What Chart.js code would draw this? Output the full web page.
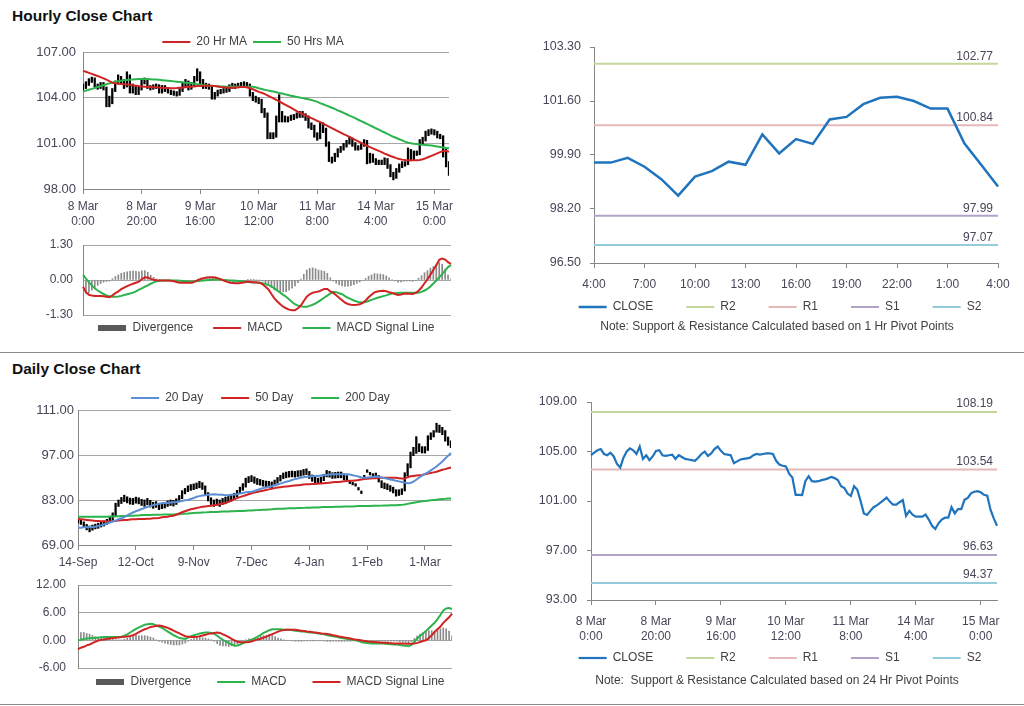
<!DOCTYPE html>
<html>
<head>
<meta charset="utf-8">
<script src="https://cdn.jsdelivr.net/npm/chart.js@4.4.0/dist/chart.umd.min.js"></script>
<style>
  html, body { margin: 0; padding: 0; background: #fff; }
  body { width: 1024px; height: 706px; position: relative; overflow: hidden; font-family: "Liberation Sans", Arial, sans-serif; }
  canvas { position: absolute; left: 0; top: 0; }
  .heading { position: absolute; left: 12px; font-weight: bold; font-size: 15.5px; color: #111; line-height: 18px; }
  .rule { position: absolute; left: 0; width: 1024px; height: 1px; background: #8c8c8c; }
</style>
</head>
<body>
<div class="heading" style="top:7px">Hourly Close Chart</div>
<div class="rule" style="top:352px"></div>
<div class="heading" style="top:360px">Daily Close Chart</div>
<div class="rule" style="top:704px"></div>

<canvas id="hourPrice" width="1024" height="760"></canvas>
<canvas id="hourMacd" width="1024" height="760"></canvas>
<canvas id="hourPivot" width="1024" height="760"></canvas>
<canvas id="dayPrice" width="1024" height="760"></canvas>
<canvas id="dayMacd" width="1024" height="760"></canvas>
<canvas id="dayPivot" width="1024" height="760"></canvas>

<script>
// --- Tick labels ---
const hourTicks = [['8 Mar', '0:00'], ['8 Mar', '20:00'], ['9 Mar', '16:00'], ['10 Mar', '12:00'], ['11 Mar', '8:00'], ['14 Mar', '4:00'], ['15 Mar', '0:00']];
const dayTicks = ['14-Sep', '12-Oct', '9-Nov', '7-Dec', '4-Jan', '1-Feb', '1-Mar'];
const pivotHours = ['4:00', '5:00', '6:00', '7:00', '8:00', '9:00', '10:00', '11:00', '12:00', '13:00', '14:00', '15:00', '16:00',
    '17:00', '18:00', '19:00', '20:00', '21:00', '22:00', '23:00', '0:00', '1:00', '2:00', '3:00', '4:00'];

// --- Hourly series (8 Mar 0:00 .. 15 Mar ~5:00) ---
const hourClose = [
    104.7, 104.9, 105.1, 105.2, 104.8, 104.7, 104.9, 104.6, 104.0, 103.7,
    104.5, 105.0, 105.25, 105.1, 104.8, 105.4, 104.4, 104.7, 104.3, 104.6,
    105.05, 105.1, 104.7, 104.65, 104.7, 104.75, 104.4, 104.7, 104.55, 104.4,
    104.35, 104.3, 104.25, 104.5, 104.8, 105.0, 104.65, 104.85, 105.2, 105.4,
    105.05, 104.8, 104.75, 104.7, 104.05, 104.2, 104.35, 104.4, 104.45, 104.5,
    104.7, 104.8, 104.75, 104.8, 104.85, 104.85, 104.8, 104.25, 103.95, 103.85,
    103.8, 103.2, 102.9, 101.5, 101.5, 101.48, 102.6, 103.0, 102.6, 102.56,
    102.6, 102.69, 102.75, 102.83, 102.95, 102.85, 102.7, 102.2, 102.05, 101.6,
    101.4, 102.2, 101.9, 101.0, 100.0, 99.87, 100.2, 100.5, 100.65, 100.85,
    101.05, 101.27, 100.95, 100.7, 100.7, 100.9, 101.08, 99.8, 100.2, 99.9,
    99.73, 99.73, 99.73, 99.9, 99.5, 99.0, 98.74, 99.2, 99.5, 99.65,
    99.65, 100.5, 100.0, 100.35, 100.35, 101.1, 101.25, 101.62, 101.75, 101.8,
    101.7, 101.5, 101.43, 100.3, 99.6, 99.0
];
const hourHigh = [
    104.9, 105.05, 105.25, 105.35, 105.3, 104.9, 105.0, 105.0, 104.7, 104.1,
    104.6, 105.1, 105.5, 105.4, 105.2, 105.7, 105.5, 104.9, 104.8, 104.7,
    105.2, 105.3, 105.2, 104.8, 104.85, 104.9, 104.85, 104.8, 104.8, 104.65,
    104.5, 104.45, 104.4, 104.6, 104.95, 105.2, 105.1, 105.0, 105.4, 105.9,
    105.7, 105.2, 104.95, 104.9, 104.8, 104.35, 104.5, 104.55, 104.6, 104.65,
    104.85, 104.95, 104.9, 104.95, 105.0, 105.05, 105.0, 104.9, 104.35, 104.1,
    104.0, 103.9, 103.3, 103.0, 101.7, 101.7, 102.8, 104.2, 103.1, 102.8,
    102.75, 102.85, 102.9, 103.0, 103.1, 103.1, 102.95, 102.8, 102.35, 102.2,
    101.7, 102.4, 102.35, 102.0, 101.1, 100.1, 100.35, 100.65, 100.8, 101.0,
    101.2, 101.45, 101.35, 101.05, 100.85, 101.05, 101.25, 101.2, 100.35, 100.3,
    100.0, 99.9, 99.9, 100.05, 100.0, 99.6, 99.1, 99.35, 99.65, 99.8,
    99.8, 100.7, 100.6, 100.5, 100.5, 101.25, 101.4, 101.8, 101.9, 101.95,
    101.9, 101.8, 101.6, 101.5, 100.6, 99.8
];
const hourLow = [
    104.5, 104.6, 104.8, 105.0, 104.7, 104.55, 104.6, 104.5, 103.4, 103.4,
    103.6, 104.4, 104.9, 104.9, 104.6, 104.7, 104.3, 104.3, 104.2, 104.2,
    104.5, 104.9, 104.6, 104.5, 104.55, 104.6, 104.3, 104.3, 104.4, 104.3,
    104.2, 104.15, 104.1, 104.15, 104.4, 104.7, 104.5, 104.55, 104.75, 105.1,
    104.9, 104.6, 104.6, 104.55, 103.9, 103.9, 104.1, 104.25, 104.3, 104.35,
    104.4, 104.6, 104.6, 104.65, 104.7, 104.7, 104.65, 104.1, 103.8, 103.7,
    103.6, 103.0, 102.7, 101.3, 101.3, 101.3, 101.4, 102.4, 102.4, 102.4,
    102.4, 102.5, 102.55, 102.65, 102.7, 102.7, 102.5, 102.0, 101.9, 101.4,
    101.2, 101.3, 101.7, 100.8, 99.8, 99.7, 99.8, 100.1, 100.4, 100.55,
    100.75, 100.95, 100.8, 100.55, 100.55, 100.6, 100.8, 99.65, 99.7, 99.75,
    99.6, 99.6, 99.6, 99.6, 99.35, 98.8, 98.6, 98.7, 99.1, 99.4,
    99.5, 99.6, 99.85, 99.9, 100.2, 100.25, 100.95, 101.15, 101.5, 101.6,
    101.55, 101.35, 101.3, 100.1, 99.45, 98.9
];
const hourMa20 = [
    105.76, 105.7, 105.63, 105.56, 105.49, 105.42, 105.35, 105.27, 105.18, 105.08,
    104.98, 104.94, 104.92, 104.9, 104.88, 104.87, 104.85, 104.82, 104.79, 104.76,
    104.74, 104.72, 104.71, 104.7, 104.69, 104.68, 104.66, 104.65, 104.64, 104.63,
    104.62, 104.62, 104.63, 104.65, 104.67, 104.69, 104.71, 104.72, 104.74, 104.76,
    104.77, 104.78, 104.78, 104.78, 104.78, 104.76, 104.73, 104.7, 104.68, 104.66,
    104.65, 104.65, 104.66, 104.68, 104.7, 104.7, 104.68, 104.62, 104.55, 104.47,
    104.38, 104.32, 104.25, 104.15, 104.05, 103.95, 103.85, 103.75, 103.65, 103.55,
    103.45, 103.34, 103.23, 103.12, 103.01, 102.92, 102.84, 102.75, 102.66, 102.57,
    102.48, 102.39, 102.3, 102.2, 102.1, 102.0, 101.9, 101.8, 101.7, 101.6,
    101.52, 101.43, 101.33, 101.23, 101.13, 101.03, 100.93, 100.84, 100.75, 100.67,
    100.59, 100.51, 100.42, 100.32, 100.25, 100.17, 100.1, 100.03, 99.97, 99.93,
    99.9, 99.89, 99.89, 99.89, 99.89, 99.9, 99.95, 100.02, 100.1, 100.18,
    100.26, 100.34, 100.42, 100.5, 100.5, 100.45
];
const hourMa50 = [
    104.4, 104.46, 104.52, 104.58, 104.64, 104.7, 104.76, 104.82, 104.88, 104.94,
    104.99, 105.04, 105.08, 105.11, 105.14, 105.16, 105.18, 105.2, 105.21, 105.22,
    105.22, 105.22, 105.22, 105.21, 105.2, 105.19, 105.17, 105.15, 105.13, 105.11,
    105.09, 105.07, 105.05, 105.03, 105.01, 104.98, 104.96, 104.94, 104.91, 104.89,
    104.86, 104.83, 104.81, 104.79, 104.77, 104.76, 104.75, 104.74, 104.73, 104.72,
    104.72, 104.72, 104.72, 104.72, 104.72, 104.72, 104.72, 104.72, 104.72, 104.68,
    104.62, 104.57, 104.52, 104.48, 104.44, 104.4, 104.36, 104.31, 104.27, 104.22,
    104.18, 104.13, 104.09, 104.05, 104.01, 103.97, 103.93, 103.89, 103.85, 103.79,
    103.72, 103.64, 103.57, 103.49, 103.42, 103.34, 103.26, 103.17, 103.09, 103.0,
    102.91, 102.82, 102.74, 102.65, 102.55, 102.46, 102.37, 102.28, 102.18, 102.09,
    101.99, 101.9, 101.8, 101.71, 101.62, 101.52, 101.43, 101.35, 101.27, 101.19,
    101.11, 101.04, 101.0, 100.97, 100.95, 100.92, 100.9, 100.89, 100.87, 100.85,
    100.82, 100.79, 100.76, 100.73, 100.7, 100.67
];
const hourMacd = [
    -0.25, -0.45, -0.55, -0.58, -0.59, -0.59, -0.59, -0.6, -0.62, -0.64,
    -0.57, -0.49, -0.42, -0.34, -0.28, -0.23, -0.18, -0.14, -0.1, -0.06,
    0.03, 0.1, 0.09, 0.04, 0.01, -0.01, -0.02, -0.02, -0.02, -0.02,
    -0.03, -0.05, -0.08, -0.1, -0.1, -0.1, -0.1, -0.1, -0.06, -0.01,
    0.04, 0.07, 0.09, 0.1, 0.1, 0.09, 0.06, 0.02, -0.03, -0.07,
    -0.1, -0.11, -0.12, -0.12, -0.1, -0.08, -0.06, -0.07, -0.08, -0.09,
    -0.1, -0.16, -0.25, -0.35, -0.52, -0.68, -0.8, -0.9, -0.99, -1.05,
    -1.1, -1.12, -1.12, -1.05, -0.95, -0.78, -0.62, -0.53, -0.47, -0.45,
    -0.43, -0.38, -0.33, -0.33, -0.42, -0.48, -0.57, -0.66, -0.75, -0.84,
    -0.89, -0.92, -0.93, -0.92, -0.9, -0.85, -0.76, -0.64, -0.55, -0.46,
    -0.43, -0.41, -0.4, -0.42, -0.45, -0.48, -0.52, -0.56, -0.54, -0.51,
    -0.5, -0.51, -0.52, -0.48, -0.4, -0.28, -0.12, 0.02, 0.2, 0.37,
    0.55, 0.75, 0.8, 0.76, 0.66, 0.6
];
const hourSignal = [
    0.19, 0.05, -0.08, -0.2, -0.31, -0.39, -0.46, -0.52, -0.57, -0.6,
    -0.62, -0.62, -0.61, -0.59, -0.56, -0.53, -0.5, -0.47, -0.42, -0.36,
    -0.31, -0.25, -0.2, -0.14, -0.09, -0.05, -0.03, -0.02, -0.02, -0.02,
    -0.02, -0.02, -0.02, -0.03, -0.04, -0.05, -0.06, -0.06, -0.05, -0.04,
    -0.03, -0.02, -0.01, 0.0, 0.01, 0.02, 0.02, 0.01, 0.0, -0.01,
    -0.02, -0.02, -0.03, -0.04, -0.05, -0.06, -0.07, -0.08, -0.09, -0.09,
    -0.1, -0.12, -0.15, -0.19, -0.24, -0.31, -0.39, -0.47, -0.55, -0.62,
    -0.72, -0.82, -0.9, -0.95, -0.98, -0.99, -0.99, -0.96, -0.92, -0.87,
    -0.8, -0.73, -0.65, -0.58, -0.5, -0.44, -0.45, -0.49, -0.53, -0.6,
    -0.66, -0.71, -0.76, -0.8, -0.83, -0.84, -0.82, -0.78, -0.74, -0.7,
    -0.66, -0.63, -0.6, -0.57, -0.53, -0.5, -0.49, -0.48, -0.47, -0.47,
    -0.47, -0.47, -0.47, -0.47, -0.47, -0.44, -0.39, -0.33, -0.24, -0.13,
    -0.02, 0.1, 0.22, 0.35, 0.48, 0.56
];
const hourDivergence = [
    -0.44, -0.5, -0.47, -0.38, -0.28, -0.2, -0.13, -0.08, -0.05, -0.04,
    0.05, 0.13, 0.19, 0.25, 0.28, 0.3, 0.32, 0.33, 0.32, 0.3,
    0.34, 0.35, 0.29, 0.18, 0.1, 0.04, 0.01, 0, 0, 0,
    -0.01, -0.03, -0.06, -0.07, -0.06, -0.05, -0.04, -0.04, -0.01, 0.03,
    0.07, 0.09, 0.1, 0.1, 0.09, 0.07, 0.04, 0.01, -0.03, -0.06,
    -0.08, -0.09, -0.09, -0.08, -0.05, -0.02, 0.01, 0.01, 0.01, 0,
    0, -0.04, -0.1, -0.16, -0.28, -0.37, -0.41, -0.43, -0.44, -0.43,
    -0.38, -0.3, -0.22, -0.1, 0.03, 0.21, 0.37, 0.43, 0.45, 0.42,
    0.37, 0.35, 0.32, 0.25, 0.08, -0.04, -0.12, -0.17, -0.22, -0.24,
    -0.23, -0.21, -0.17, -0.12, -0.07, -0.01, 0.06, 0.14, 0.19, 0.24,
    0.23, 0.22, 0.2, 0.15, 0.08, 0.02, -0.03, -0.08, -0.07, -0.04,
    -0.03, -0.04, -0.05, -0.01, 0.07, 0.16, 0.27, 0.35, 0.44, 0.5,
    0.57, 0.65, 0.58, 0.41, 0.18, 0.04
];

// --- Last 24 hours, 1 Hr pivots ---
const pivotClose = [99.66, 99.66, 99.81, 99.53, 99.14, 98.62, 99.22, 99.39, 99.69, 99.59, 100.55, 99.95, 100.4,
    100.25, 101.02, 101.1, 101.5, 101.7, 101.73, 101.6, 101.36, 101.36, 100.27, 99.59, 98.91];
const levelNames = ['R2', 'R1', 'S1', 'S2'];
const hourLevels = [102.77, 100.84, 97.99, 97.07];
const dayLevels = [108.19, 103.54, 96.63, 94.37];

// --- Daily series (14-Sep .. mid-Mar) ---
const dayHigh = [
    77.6, 77.0, 76.2, 75.4, 74.9, 75.2, 75.5, 75.8, 76.1, 76.5,
    77.0, 77.6, 79.0, 82.0, 83.0, 83.8, 84.5, 84.0, 83.6, 83.5,
    83.9, 83.7, 83.2, 83.0, 83.5, 82.9, 82.3, 82.5, 82.0, 82.0,
    82.3, 82.7, 83.0, 82.9, 83.4, 84.4, 85.9, 86.6, 87.4, 87.8,
    88.0, 88.3, 88.8, 88.4, 87.4, 85.3, 83.7, 83.0, 83.3, 83.0,
    83.5, 83.9, 84.1, 84.4, 85.1, 86.0, 87.0, 88.1, 89.8, 90.3,
    90.6, 90.2, 89.7, 89.4, 89.1, 88.9, 88.8, 88.6, 89.2, 90.0,
    90.7, 91.4, 91.7, 91.9, 92.0, 91.9, 92.1, 92.2, 92.5, 92.7,
    91.9, 90.8, 90.2, 89.8, 90.1, 91.0, 92.2, 91.9, 91.5, 91.6,
    91.7, 91.7, 91.1, 90.6, 88.9, 88.5, 88.1, 86.9, 85.8, 90.7,
    92.4, 91.6, 91.2, 91.4, 90.6, 89.0, 88.3, 88.0, 87.5, 87.0,
    86.2, 86.2, 86.5, 91.5, 94.3, 97.9, 99.4, 102.7, 100.5, 99.6,
    99.6, 103.0, 103.9, 104.6, 106.9, 106.3, 105.6, 104.6, 102.6, 101.4
];
const dayLow = [
    75.9, 75.4, 74.6, 73.7, 73.1, 73.6, 74.0, 74.2, 74.6, 74.9,
    75.4, 75.9, 76.6, 78.0, 81.0, 81.9, 82.5, 82.1, 81.7, 81.6,
    82.0, 81.8, 81.3, 81.0, 81.5, 80.8, 80.4, 80.7, 80.0, 80.3,
    80.5, 81.0, 81.3, 81.1, 81.6, 82.4, 83.4, 84.9, 85.6, 86.0,
    86.2, 86.5, 86.8, 86.3, 84.5, 82.7, 81.6, 81.0, 81.4, 81.0,
    81.6, 82.0, 82.3, 82.6, 83.2, 84.0, 85.0, 86.0, 87.0, 88.4,
    88.7, 88.2, 87.8, 87.6, 87.3, 87.1, 87.0, 86.8, 87.4, 88.2,
    88.9, 89.6, 89.9, 90.1, 90.2, 90.1, 90.3, 90.4, 90.7, 90.9,
    89.7, 88.8, 88.4, 88.0, 88.3, 89.0, 90.2, 90.1, 89.7, 89.8,
    89.9, 89.9, 89.3, 88.8, 88.1, 87.7, 87.3, 86.1, 85.0, 89.9,
    91.6, 90.8, 90.4, 89.8, 88.6, 86.8, 86.5, 86.2, 85.7, 85.2,
    84.2, 84.4, 84.7, 85.8, 90.5, 93.0, 96.8, 97.5, 98.0, 97.6,
    97.6, 98.4, 101.8, 102.6, 104.1, 104.0, 103.3, 101.3, 100.0, 99.3
];
const dayMa20 = [
    74.4, 74.4, 74.5, 74.5, 74.6, 74.6, 74.7, 74.9, 75.1, 75.4,
    75.7, 76.0, 76.3, 76.6, 77.0, 77.3, 77.7, 78.2, 78.7, 79.1,
    79.5, 79.8, 80.2, 80.5, 80.9, 81.1, 81.4, 81.6, 81.8, 82.0,
    82.1, 82.1, 82.2, 82.3, 82.4, 82.6, 82.7, 82.9, 83.0, 83.3,
    83.6, 84.0, 84.2, 84.4, 84.5, 84.6, 84.7, 84.8, 84.7, 84.6,
    84.6, 84.5, 84.5, 84.6, 84.7, 84.8, 85.0, 85.2, 85.4, 85.5,
    85.6, 85.8, 86.1, 86.4, 86.7, 86.9, 87.1, 87.3, 87.6, 87.8,
    88.1, 88.4, 88.7, 88.9, 89.2, 89.5, 89.7, 89.9, 90.1, 90.2,
    90.3, 90.4, 90.5, 90.5, 90.6, 90.7, 90.8, 90.9, 91.0, 91.0,
    91.0, 91.0, 91.0, 91.0, 90.9, 90.7, 90.5, 90.3, 90.0, 89.9,
    90.0, 90.1, 90.2, 90.3, 90.2, 90.0, 89.8, 89.6, 89.4, 89.2,
    89.0, 88.8, 88.6, 88.4, 88.2, 88.3, 88.7, 89.3, 90.0, 90.6,
    91.1, 91.6, 92.2, 92.8, 93.4, 94.2, 95.0, 95.9, 96.8, 97.6
];
const dayMa50 = [
    77.1, 77.0, 76.9, 76.8, 76.7, 76.6, 76.5, 76.5, 76.4, 76.4,
    76.3, 76.3, 76.4, 76.5, 76.6, 76.7, 76.8, 76.8, 76.9, 77.0,
    77.0, 77.1, 77.1, 77.1, 77.2, 77.2, 77.3, 77.3, 77.4, 77.6,
    77.7, 77.8, 78.0, 78.1, 78.4, 78.8, 79.2, 79.5, 79.8, 80.1,
    80.3, 80.5, 80.7, 80.9, 81.0, 81.1, 81.2, 81.4, 81.5, 81.7,
    81.9, 82.0, 82.4, 82.8, 83.2, 83.6, 83.9, 84.2, 84.5, 84.8,
    85.1, 85.3, 85.5, 85.7, 85.9, 86.1, 86.3, 86.5, 86.7, 86.9,
    87.0, 87.1, 87.2, 87.3, 87.4, 87.5, 87.6, 87.7, 87.8, 87.9,
    87.9, 88.0, 88.0, 88.1, 88.1, 88.2, 88.3, 88.4, 88.5, 88.6,
    88.6, 88.7, 88.8, 88.9, 89.0, 89.0, 89.1, 89.2, 89.4, 89.5,
    89.6, 89.7, 89.8, 89.8, 89.9, 89.9, 89.9, 89.9, 89.9, 89.9,
    89.9, 89.8, 89.7, 89.6, 90.1, 90.4, 90.5, 90.6, 90.7, 90.8,
    91.0, 91.2, 91.4, 91.6, 91.8, 92.1, 92.4, 92.6, 92.9, 93.1
];
const dayMa200 = [
    77.8, 77.8, 77.8, 77.8, 77.8, 77.8, 77.8, 77.8, 77.8, 77.8,
    77.8, 77.85, 77.9, 77.9, 77.95, 78.0, 78.0, 78.05, 78.1, 78.1,
    78.2, 78.2, 78.3, 78.3, 78.3, 78.35, 78.4, 78.4, 78.4, 78.45,
    78.5, 78.5, 78.5, 78.5, 78.55, 78.6, 78.7, 78.75, 78.8, 78.9,
    78.95, 79.0, 79.05, 79.1, 79.15, 79.2, 79.25, 79.3, 79.3, 79.35,
    79.4, 79.4, 79.45, 79.5, 79.5, 79.55, 79.6, 79.6, 79.65, 79.7,
    79.75, 79.8, 79.85, 79.9, 79.95, 80.0, 80.05, 80.1, 80.2, 80.25,
    80.3, 80.3, 80.35, 80.4, 80.4, 80.45, 80.5, 80.5, 80.55, 80.6,
    80.6, 80.65, 80.7, 80.7, 80.75, 80.8, 80.8, 80.85, 80.85, 80.9,
    80.9, 80.9, 80.95, 81.0, 81.0, 81.0, 81.05, 81.1, 81.1, 81.1,
    81.15, 81.15, 81.2, 81.2, 81.2, 81.25, 81.3, 81.3, 81.35, 81.35,
    81.4, 81.45, 81.5, 81.6, 81.8, 82.0, 82.15, 82.3, 82.45, 82.6,
    82.7, 82.8, 82.9, 83.0, 83.1, 83.2, 83.3, 83.35, 83.45, 83.5
];
const dayMacd = [
    0.0, 0.1, 0.3, 0.4, 0.45, 0.5, 0.5, 0.6, 0.65, 0.7,
    0.7, 0.7, 0.7, 0.7, 0.7, 0.8, 1.0, 1.3, 1.7, 2.1,
    2.5, 2.8, 3.1, 3.4, 3.5, 3.6, 3.5, 3.2, 3.0, 2.7,
    2.3, 1.9, 1.5, 1.1, 0.8, 0.5, 0.4, 0.3, 0.6, 0.9,
    1.1, 1.3, 1.5, 1.6, 1.7, 1.7, 1.6, 1.4, 1.0, 0.5,
    0.1, -0.2, -0.6, -0.9, -1.15, -1.1, -0.9, -0.6, -0.3, 0.0,
    0.15, 0.5, 0.8, 1.2, 1.6, 1.9, 2.2, 2.4, 2.4, 2.4,
    2.4, 2.3, 2.3, 2.3, 2.2, 2.1, 2.0, 1.9, 1.9, 1.8,
    1.7, 1.7, 1.6, 1.5, 1.4, 1.3, 1.1, 1.0, 0.9, 0.8,
    0.6, 0.5, 0.4, 0.3, 0.2, 0.1, 0.0, -0.2, -0.4, -0.5,
    -0.6, -0.7, -0.7, -0.7, -0.7, -0.7, -0.75, -0.8, -0.85, -0.9,
    -0.9, -1.0, -1.1, -1.2, -1.3, -1.0, -0.3, 0.4, 1.0, 1.5,
    2.0, 2.6, 3.2, 3.8, 4.6, 5.5, 6.5, 6.9, 7.0, 6.8
];
const daySignal = [
    -1.9, -1.6, -1.4, -1.1, -0.9, -0.6, -0.3, -0.05, 0.1, 0.2,
    0.3, 0.4, 0.5, 0.55, 0.6, 0.7, 0.75, 0.85, 0.95, 1.1,
    1.4, 1.8, 2.1, 2.4, 2.6, 2.9, 3.0, 3.15, 3.2, 3.1,
    2.9, 2.7, 2.4, 2.1, 1.8, 1.5, 1.2, 0.9, 0.8, 0.7,
    0.7, 0.75, 0.9, 1.05, 1.2, 1.4, 1.5, 1.6, 1.7, 1.6,
    1.3, 1.0, 0.7, 0.3, 0.0, -0.3, -0.4, -0.4, -0.4, -0.35,
    -0.2, 0.0, 0.2, 0.35, 0.6, 0.8, 1.1, 1.35, 1.6, 1.9,
    2.1, 2.25, 2.3, 2.3, 2.3, 2.3, 2.2, 2.1, 2.0, 1.9,
    1.85, 1.75, 1.7, 1.6, 1.5, 1.45, 1.35, 1.25, 1.1, 1.0,
    0.85, 0.75, 0.6, 0.5, 0.4, 0.25, 0.15, 0.05, -0.05, -0.15,
    -0.25, -0.3, -0.35, -0.4, -0.45, -0.5, -0.55, -0.6, -0.65, -0.7,
    -0.7, -0.7, -0.7, -0.75, -0.75, -0.75, -0.7, -0.55, -0.35, -0.15,
    0.0, 0.5, 1.1, 1.8, 2.4, 3.0, 3.8, 4.4, 5.0, 5.8
];
const dayDivergence = [
    1.9, 1.7, 1.7, 1.5, 1.35, 1.1, 0.8, 0.65, 0.55, 0.5,
    0.4, 0.3, 0.2, 0.15, 0.1, 0.1, 0.25, 0.45, 0.75, 1.0,
    1.1, 1.0, 1.0, 1.0, 0.9, 0.7, 0.5, 0.05, -0.2, -0.4,
    -0.6, -0.8, -0.9, -1.0, -1.0, -1.0, -0.8, -0.6, -0.2, 0.2,
    0.4, 0.55, 0.6, 0.55, 0.5, 0.3, 0.1, -0.2, -0.7, -1.1,
    -1.2, -1.2, -1.3, -1.2, -1.15, -0.8, -0.5, -0.2, 0.1, 0.35,
    0.35, 0.5, 0.6, 0.85, 1.0, 1.1, 1.1, 1.05, 0.8, 0.5,
    0.3, 0.05, 0.0, 0.0, -0.1, -0.2, -0.2, -0.2, -0.1, -0.1,
    -0.15, -0.05, -0.1, -0.1, -0.1, -0.15, -0.25, -0.25, -0.2, -0.2,
    -0.25, -0.25, -0.2, -0.2, -0.2, -0.15, -0.15, -0.25, -0.35, -0.35,
    -0.35, -0.4, -0.35, -0.3, -0.25, -0.2, -0.2, -0.2, -0.2, -0.2,
    -0.2, -0.3, -0.4, -0.45, -0.55, -0.25, 0.4, 0.95, 1.35, 1.65,
    2.0, 2.1, 2.1, 2.0, 2.2, 2.5, 2.7, 2.5, 2.0, 1.0
];

const hourSlots = hourClose.map((_, i) => i);
const daySlots = dayMa20.map((_, i) => i);
const flat = (labels, v) => labels.map(() => v);

// --- Style ---
Chart.defaults.font.family = '"Liberation Sans", Arial, sans-serif';
Chart.defaults.font.size = 12;
Chart.defaults.color = '#404040';

const INK = '#4a4458';
const GRID = '#a6a6a6';
const AXIS = '#868686';
const RED = '#d02424';
const GREEN = '#2db34d';
const BLUE = '#1f74bd';
const LEVEL_COLORS = ['#c4d79b', '#e6b9b8', '#b3a2c7', '#93cddd'];

// grey block used for "Divergence" in the legends
const swatch = document.createElement('canvas');
swatch.width = 28;
swatch.height = 6;
const sctx = swatch.getContext('2d');
sctx.fillStyle = '#595959';
sctx.fillRect(0, 0, 28, 6);

// shift legend / note text after layout
const nudge = {
    id: 'nudge',
    afterLayout(chart, args, opts) {
        const shift = (box, dx = 0, dy = 0) => {
            if (!box) return;
            box.left += dx; box.right += dx;
            box.top += dy; box.bottom += dy;
        };
        shift(chart.legend, opts.legendDx, opts.legendDy);
        shift(chart.titleBlock, opts.titleDx, opts.titleDy);
    }
};

// value tags above the pivot lines
const levelTags = {
    id: 'levelTags',
    afterDatasetsDraw(chart, args, opts) {
        const { ctx, chartArea, scales } = chart;
        ctx.save();
        ctx.font = '12px "Liberation Sans", Arial, sans-serif';
        ctx.fillStyle = INK;
        ctx.textAlign = 'right';
        ctx.textBaseline = 'alphabetic';
        chart.data.datasets.forEach(ds => {
            if (ds.level === undefined) return;
            const y = scales.y.getPixelForValue(ds.level);
            ctx.fillText(ds.level.toFixed(2), chartArea.right - (opts.inset || 5), y - (opts.lift || 4));
        });
        ctx.restore();
    }
};

function legendFor(position, gap) {
    return {
        position,
        labels: {
            usePointStyle: true,
            pointStyleWidth: 28,
            padding: gap,
            color: '#404040',
            font: { size: 12 },
            filter: (item, data) => !data.datasets[item.datasetIndex].noLegend,
            sort: (a, b) => a.datasetIndex - b.datasetIndex,
            generateLabels: chart => Chart.defaults.plugins.legend.labels.generateLabels(chart).map(item => {
                const ds = chart.data.datasets[item.datasetIndex];
                item.pointStyle = ds.swatch ? swatch : 'line';
                return item;
            })
        }
    };
}

const lineSet = (label, data, color, width = 2, order = 1) => ({
    type: 'line', label, data, borderColor: color, backgroundColor: color,
    borderWidth: width, pointRadius: 0, tension: 0, fill: false, order
});

const fixed = v => v.toFixed(2);

const common = { responsive: false, animation: false, devicePixelRatio: 1, events: [] };

// --- Hourly price bars with moving averages ---
new Chart(document.getElementById('hourPrice'), {
    type: 'bar',
    data: {
        labels: hourSlots,
        datasets: [
            { label: 'Range', data: hourLow.map((lo, i) => [lo, hourHigh[i]]), backgroundColor: '#000', barThickness: 1.6, noLegend: true, order: 3 },
            lineSet('20 Hr MA', hourMa20, RED, 2, 1),
            lineSet('50 Hrs MA', hourMa50, GREEN, 2, 2)
        ]
    },
    options: {
        ...common,
        layout: { padding: { left: 33, right: 575, top: 24, bottom: 531 } },
        scales: {
            x: {
                offset: false,
                grid: { offset: false, drawOnChartArea: false, tickLength: 5, color: AXIS },
                border: { color: AXIS },
                ticks: { autoSkip: false, maxRotation: 0, padding: 5.5, color: INK, font: { size: 12, lineHeight: 1.25 },
                    callback: (v, i) => i % 20 === 0 ? hourTicks[i / 20] : null },
                afterFit: s => { s.height = 40; }
            },
            y: {
                min: 98, max: 107,
                ticks: { stepSize: 3, padding: 7, color: INK, font: { size: 13 }, callback: fixed },
                grid: { color: GRID, drawTicks: false },
                border: { color: AXIS },
                afterFit: s => { s.width = 50; }
            }
        },
        plugins: {
            legend: legendFor('top', 6),
            tooltip: { enabled: false },
            nudge: { legendDx: 12, legendDy: 6 }
        }
    },
    plugins: [nudge]
});

// --- Hourly MACD ---
new Chart(document.getElementById('hourMacd'), {
    type: 'bar',
    data: {
        labels: hourSlots,
        datasets: [
            { label: 'Divergence', data: hourDivergence, backgroundColor: '#8a8a8a', barThickness: 1, swatch: true, order: 3 },
            lineSet('MACD', hourMacd, RED, 2, 1),
            lineSet('MACD Signal Line', hourSignal, GREEN, 2, 2)
        ]
    },
    options: {
        ...common,
        layout: { padding: { left: 33, right: 573, top: 245, bottom: 403 } },
        scales: {
            x: { display: false, offset: false, grid: { offset: false } },
            y: {
                min: -1.3, max: 1.3,
                ticks: { stepSize: 1.3, padding: 10, color: INK, font: { size: 12 }, callback: fixed },
                grid: { color: GRID, drawTicks: false },
                border: { color: AXIS },
                afterFit: s => { s.width = 50; }
            }
        },
        plugins: {
            legend: legendFor('bottom', 20),
            tooltip: { enabled: false },
            nudge: { legendDx: 24.5, legendDy: -13 }
        }
    },
    plugins: [nudge]
});

// --- Last 24 hours with 1 Hr pivots ---
new Chart(document.getElementById('hourPivot'), {
    type: 'line',
    data: {
        labels: pivotHours,
        datasets: [
            lineSet('CLOSE', pivotClose, BLUE, 2.5, 0),
            ...hourLevels.map((v, k) => ({ ...lineSet(levelNames[k], flat(pivotHours, v), LEVEL_COLORS[k], 2, 1), level: v }))
        ]
    },
    options: {
        ...common,
        layout: { padding: { left: 394, right: 26, top: 47, bottom: 390 } },
        scales: {
            x: {
                offset: false,
                grid: { drawOnChartArea: false, tickLength: 5, color: AXIS },
                border: { color: AXIS },
                ticks: { autoSkip: false, maxRotation: 0, padding: 9.5, color: INK, font: { size: 12, lineHeight: 1.25 },
                    callback: (v, i) => i % 3 === 0 ? pivotHours[i] : null },
                afterFit: s => { s.height = 40; }
            },
            y: {
                min: 96.5, max: 103.3,
                ticks: { stepSize: 1.7, padding: 9, color: INK, font: { size: 12.5 }, callback: fixed },
                grid: { drawOnChartArea: false, tickLength: 4, color: AXIS },
                border: { color: AXIS },
                afterFit: s => { s.width = 200; }
            }
        },
        plugins: {
            legend: legendFor('bottom', 33),
            title: { display: true, position: 'bottom', text: 'Note: Support & Resistance Calculated based on 1 Hr Pivot Points',
                font: { size: 12, weight: 'normal', lineHeight: 1 }, padding: 0, color: '#404040' },
            tooltip: { enabled: false },
            nudge: { legendDx: 84, legendDy: -35, titleDx: 81, titleDy: -37 },
            levelTags: { inset: 5, lift: 4 }
        }
    },
    plugins: [nudge, levelTags]
});

// --- Daily price bars with moving averages ---
new Chart(document.getElementById('dayPrice'), {
    type: 'bar',
    data: {
        labels: daySlots,
        datasets: [
            { label: 'Range', data: dayLow.map((lo, i) => [lo, dayHigh[i]]), backgroundColor: '#000', barThickness: 1.6, noLegend: true, order: 4 },
            lineSet('20 Day', dayMa20, '#5b8ed6', 2, 1),
            lineSet('50 Day', dayMa50, RED, 2, 2),
            lineSet('200 Day', dayMa200, GREEN, 2, 3)
        ]
    },
    options: {
        ...common,
        layout: { padding: { left: 33, right: 573, top: 370, bottom: 185 } },
        scales: {
            x: {
                offset: false,
                grid: { offset: false, drawOnChartArea: false, tickLength: 5, color: AXIS },
                border: { color: AXIS },
                ticks: { autoSkip: false, maxRotation: 0, padding: 5.5, color: INK, font: { size: 12, lineHeight: 1.25 },
                    callback: (v, i) => i % 20 === 0 ? dayTicks[i / 20] : null },
                afterFit: s => { s.height = 30; }
            },
            y: {
                min: 69, max: 111,
                ticks: { stepSize: 14, padding: 4, color: INK, font: { size: 13 }, callback: fixed },
                grid: { color: GRID, drawTicks: false },
                border: { color: AXIS },
                afterFit: s => { s.width = 45; }
            }
        },
        plugins: {
            legend: legendFor('top', 18),
            tooltip: { enabled: false },
            nudge: { legendDx: 18.5, legendDy: 4 }
        }
    },
    plugins: [nudge]
});

// --- Daily MACD ---
new Chart(document.getElementById('dayMacd'), {
    type: 'bar',
    data: {
        labels: daySlots,
        datasets: [
            { label: 'Divergence', data: dayDivergence, backgroundColor: '#8a8a8a', barThickness: 1, swatch: true, order: 3 },
            lineSet('MACD', dayMacd, GREEN, 2, 2),
            lineSet('MACD Signal Line', daySignal, RED, 2, 1)
        ]
    },
    options: {
        ...common,
        layout: { padding: { left: 33, right: 572, top: 585, bottom: 44 } },
        scales: {
            x: { display: false, offset: false, grid: { offset: false } },
            y: {
                min: -6, max: 12,
                ticks: { stepSize: 6, padding: 12, color: INK, font: { size: 12 }, callback: fixed },
                grid: { color: GRID, drawTicks: false },
                border: { color: AXIS },
                afterFit: s => { s.width = 45; }
            }
        },
        plugins: {
            legend: legendFor('bottom', 26),
            tooltip: { enabled: false },
            nudge: { legendDx: 28, legendDy: -18 }
        }
    },
    plugins: [nudge]
});

// --- Hourly close with 24 Hr pivots ---
new Chart(document.getElementById('dayPivot'), {
    type: 'line',
    data: {
        labels: hourSlots,
        datasets: [
            lineSet('CLOSE', hourClose, BLUE, 2.2, 0),
            ...dayLevels.map((v, k) => ({ ...lineSet(levelNames[k], flat(hourSlots, v), LEVEL_COLORS[k], 2, 1), level: v }))
        ]
    },
    options: {
        ...common,
        layout: { padding: { left: 391, right: 27, top: 402, bottom: 53 } },
        scales: {
            x: {
                offset: false,
                grid: { drawOnChartArea: false, tickLength: 5, color: AXIS },
                border: { color: AXIS },
                ticks: { autoSkip: false, maxRotation: 0, padding: 9.5, color: INK, font: { size: 12, lineHeight: 1.25 },
                    callback: (v, i) => i % 20 === 0 ? hourTicks[i / 20] : null },
                afterFit: s => { s.height = 40; }
            },
            y: {
                min: 93, max: 109,
                ticks: { stepSize: 4, padding: 10, color: INK, font: { size: 12.5 }, callback: fixed },
                grid: { drawOnChartArea: false, tickLength: 4, color: AXIS },
                border: { color: AXIS },
                afterFit: s => { s.width = 200; }
            }
        },
        plugins: {
            legend: legendFor('bottom', 33),
            title: { display: true, position: 'bottom', text: 'Note:  Support & Resistance Calculated based on 24 Hr Pivot Points',
                font: { size: 12, weight: 'normal', lineHeight: 1 }, padding: 0, color: '#404040' },
            tooltip: { enabled: false },
            nudge: { legendDx: 86, legendDy: -21, titleDx: 83, titleDy: -20 },
            levelTags: { inset: 4, lift: 5 }
        }
    },
    plugins: [nudge, levelTags]
});
</script>
</body>
</html>
